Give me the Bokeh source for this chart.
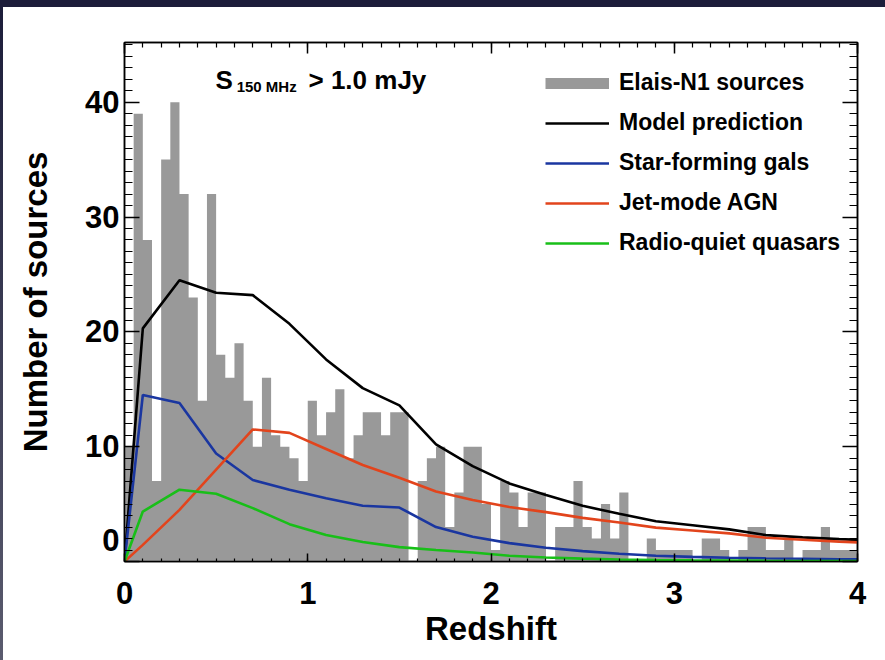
from bokeh.plotting import figure
from bokeh.models import (Range1d, LinearAxis, SingleIntervalTicker, Legend,
                          LegendItem, Label, Div, CustomJSTickFormatter)
from bokeh.layouts import column, row
from bokeh.embed import file_html
from bokeh.resources import INLINE

# Elais-N1 source counts per redshift bin (bins of width 0.05 from z=0 to z=4)
bin_width = 0.05
counts = [10, 39, 28, 7, 35, 40, 32, 23, 14, 32,
          18, 16, 19, 14, 10, 16, 11, 10, 9, 7,
          14, 11, 13, 15, 9, 11, 13, 13, 11, 13,
          13, 0, 7, 9, 10, 3, 6, 10, 10, 5,
          1, 7, 6, 3, 6, 6, 0, 3, 3, 7,
          3, 2, 5, 2, 6, 0, 0, 2, 1, 1,
          1, 1, 0, 2, 2, 1, 0, 1, 3, 3,
          1, 1, 2, 0, 1, 1, 3, 1, 1, 1]

# Model predictions sampled at redshift-bin centres
z_model = [0.0, 0.1, 0.3, 0.5, 0.7, 0.9, 1.1, 1.3, 1.5, 1.7, 1.9,
           2.1, 2.3, 2.5, 2.7, 2.9, 3.1, 3.3, 3.5, 3.7, 3.9, 4.1]
model_total = [0, 20.3, 24.5, 23.4, 23.2, 20.7, 17.6, 15.1, 13.6, 10.2, 8.3,
               6.8, 5.8, 4.85, 4.15, 3.5, 3.15, 2.8, 2.3, 2.1, 1.95, 1.82]
star_forming = [0, 14.5, 13.8, 9.4, 7.1, 6.25, 5.5, 4.85, 4.7, 3.0, 2.15,
                1.6, 1.2, 0.9, 0.68, 0.5, 0.4, 0.33, 0.28, 0.24, 0.2, 0.18]
jet_mode_agn = [0, 1.45, 4.5, 8.0, 11.5, 11.2, 9.8, 8.4, 7.3, 6.1, 5.35,
                4.75, 4.3, 3.8, 3.4, 2.95, 2.7, 2.45, 2.07, 1.9, 1.73, 1.6]
radio_quiet_qso = [0, 4.35, 6.25, 5.9, 4.65, 3.25, 2.3, 1.7, 1.25, 1.0, 0.78,
                   0.5, 0.35, 0.25, 0.18, 0.13, 0.1, 0.08, 0.06, 0.05, 0.04, 0.03]

legend_labels = ["Elais-N1 sources", "Model prediction", "Star-forming gals",
                 "Jet-mode AGN", "Radio-quiet quasars"]

FONT = "Liberation Sans"
GRAY = "#999999"
BLACK = "#000000"
BLUE = "#1a36a0"
RED = "#e2441c"
GREEN = "#18bf18"

p = figure(width=882, height=653,
           x_range=Range1d(0, 4), y_range=Range1d(0, 45.2),
           output_backend="svg", toolbar_location=None,
           min_border_left=121, min_border_right=28,
           min_border_top=35, min_border_bottom=99,
           background_fill_color="white", border_fill_color="white")
p.grid.visible = False
p.outline_line_color = BLACK
p.outline_line_width = 1.5

# histogram as one stepped area
edges = [i * bin_width for i in range(len(counts) + 1)]
p.varea_step(x=edges, y1=[0] * len(edges), y2=counts + [counts[-1]],
             step_mode="after", fill_color=GRAY)

# legend key for the histogram: a thick gray bar with no points of its own
hist_key = p.line(x=[float("nan")], y=[float("nan")], line_color=GRAY,
                  line_width=11)
r_tot = p.line(z_model, model_total, line_color=BLACK, line_width=2.6)
r_sf = p.line(z_model, star_forming, line_color=BLUE, line_width=2.6)
r_agn = p.line(z_model, jet_mode_agn, line_color=RED, line_width=2.6)
r_qso = p.line(z_model, radio_quiet_qso, line_color=GREEN, line_width=2.6)


def style_axis(ax, major, minor):
    ax.axis_line_width = 1.5
    ax.major_tick_line_width = 1.5
    ax.minor_tick_line_width = 1.2
    ax.major_tick_in = major
    ax.major_tick_out = 0
    ax.minor_tick_in = minor
    ax.minor_tick_out = 0
    ax.major_label_text_font = FONT
    ax.major_label_text_font_style = "bold"
    ax.major_label_text_font_size = "31px"
    ax.major_label_text_color = BLACK
    ax.axis_label_text_font = FONT
    ax.axis_label_text_font_style = "bold"
    ax.axis_label_text_font_size = "33px"
    ax.axis_label_text_color = BLACK


xax = p.xaxis[0]
xax.ticker = SingleIntervalTicker(interval=1, num_minor_ticks=10)
style_axis(xax, 8, 3)
xax.axis_label = "Redshift"
xax.major_label_standoff = 20
xax.axis_label_standoff = 3

yax = p.yaxis[0]
yax.ticker = SingleIntervalTicker(interval=10, num_minor_ticks=10)
style_axis(yax, 15, 8)
yax.axis_label = "Number of sources"
yax.major_label_standoff = 5
yax.axis_label_standoff = 28
# lift the zero label clear of the corner
yax.major_label_overrides = {0: "0\n"}

# mirrored tick marks on the top and right edges of the box
blank = CustomJSTickFormatter(code="return ''")
top = LinearAxis(ticker=SingleIntervalTicker(interval=1, num_minor_ticks=10),
                 formatter=blank)
style_axis(top, 11, 5)
p.add_layout(top, "above")

right = LinearAxis(ticker=SingleIntervalTicker(interval=10, num_minor_ticks=10),
                   formatter=blank)
style_axis(right, 15, 8)
p.add_layout(right, "right")

# flux-limit annotation
title_kw = dict(text_font=FONT, text_font_style="bold", text_color=BLACK,
                text_baseline="alphabetic", text_align="left")
p.add_layout(Label(x=0.497, y=41.95, text="S", text_font_size="26px", **title_kw))
p.add_layout(Label(x=0.612, y=41.35, text="150 MHz", text_font_size="15px", **title_kw))
p.add_layout(Label(x=1.004, y=41.95, text="> 1.0 mJy", text_font_size="26px", **title_kw))

legend = Legend(items=[LegendItem(label=legend_labels[0], renderers=[hist_key]),
                       LegendItem(label=legend_labels[1], renderers=[r_tot]),
                       LegendItem(label=legend_labels[2], renderers=[r_sf]),
                       LegendItem(label=legend_labels[3], renderers=[r_agn]),
                       LegendItem(label=legend_labels[4], renderers=[r_qso])],
                location=(421, 305), orientation="vertical",
                glyph_width=64, glyph_height=26, label_height=26, spacing=13,
                padding=0, margin=0, label_standoff=10,
                border_line_color=None, background_fill_alpha=0,
                label_text_font=FONT, label_text_font_style="bold",
                label_text_font_size="23px", label_text_color=BLACK)
p.add_layout(legend, "center")

top_band = Div(width=885, height=7, margin=0,
               styles={"background-color": "#1c1d3a"})
left_band = Div(width=3, height=653, margin=0,
                styles={"background": "linear-gradient(#1c1d3a, #5a5b6e)"})
page = column(top_band, row(left_band, p, spacing=0), spacing=0)

open("out.html", "w").write(file_html(page, INLINE))
